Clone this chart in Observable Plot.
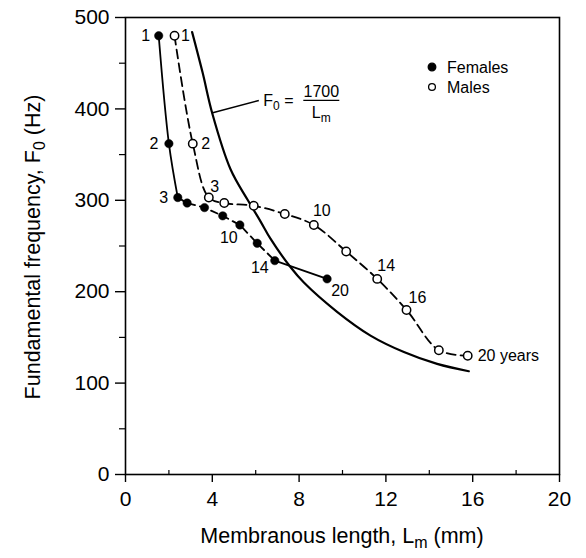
<!DOCTYPE html>
<html><head><meta charset="utf-8">
<script src="https://cdn.jsdelivr.net/npm/d3@7"></script>
<script src="https://cdn.jsdelivr.net/npm/@observablehq/plot@0.6"></script>
<style>
body{margin:0;background:#fff;}
#chart svg{font-family:"Liberation Sans",Arial,Helvetica,sans-serif;color:#000;background:#fff;}
</style>
</head><body><div id="chart"></div>
<script>
// ---- data ----
const femaleAge    = [1, 2, 3, 4, 6, 8, 10, 12, 14, 20];
const femaleLength = [1.53, 2.0, 2.41, 2.84, 3.64, 4.48, 5.27, 6.07, 6.88, 9.29];
const femaleF0     = [480, 362, 303, 297, 292, 283, 273, 253, 234, 214];

const maleAge    = [1, 2, 3, 4, 6, 8, 10, 12, 14, 16, 18, 20];
const maleLength = [2.26, 3.10, 3.84, 4.55, 5.91, 7.34, 8.68, 10.17, 11.60, 12.95, 14.44, 15.77];
const maleF0     = [480, 362, 303, 297, 294, 285, 273, 244, 214, 180, 136, 130];

// curve F0 = 1700 / Lm as drawn in the figure
const curveLength = [3.07, 3.55, 4.0, 4.84, 5.64, 6.22, 6.68, 7.6, 8.22, 9.75, 11.29, 12.83, 14.36, 15.82];
const curveF0     = [484, 440, 395, 334, 300, 277, 258, 227, 210, 178, 152, 134, 121, 113];

const femaleLabelAges = [1, 2, 3, 10, 14, 20];
const maleLabelAges   = [1, 2, 3, 10, 14, 16, 20];
const maleLabelTexts  = ["1", "2", "3", "10", "14", "16", "20 years"];

const xTicks = [0, 4, 8, 12, 16, 20];
const xMinor = [2, 6, 10, 14, 18];
const yTicks = [0, 100, 200, 300, 400, 500];
const yMinor = [50, 150, 250, 350, 450];

const legendLabels = ["Females", "Males"];
const formulaNumerator = "1700";

// ---- build tables ----
const females = femaleAge.map((a, i) => ({age: a, L: femaleLength[i], F: femaleF0[i]}));
const males = maleAge.map((a, i) => ({age: a, L: maleLength[i], F: maleF0[i]}));
const curve = curveLength.map((l, i) => ({L: l, F: curveF0[i]}));

const fSeg1 = females.filter(d => d.age <= 3);
const fSeg2 = females.filter(d => d.age >= 3 && d.age <= 14);
const fSeg3 = females.filter(d => d.age >= 14);

const femaleLabelOffsets = {1: [-13, 0], 2: [-15, 0], 3: [-14, 0], 10: [-11, 13], 14: [-15, 7], 20: [13, 12]};
const maleLabelOffsets = {1: [11, 0], 2: [13, 0], 3: [6, -11], 10: [8, -14], 14: [9, -13], 16: [11, -12], 20: [10, 0]};

const labelMarks = [];
femaleLabelAges.forEach(a => {
  const d = females.find(p => p.age === a);
  const [dx, dy] = femaleLabelOffsets[a];
  labelMarks.push(Plot.text([d], {x: "L", y: "F", text: p => String(p.age), dx, dy, fontSize: 16, fill: "black"}));
});
maleLabelAges.forEach((a, i) => {
  const d = males.find(p => p.age === a);
  const [dx, dy] = maleLabelOffsets[a];
  const last = a === 20;
  labelMarks.push(Plot.text([d], {x: "L", y: "F", text: () => maleLabelTexts[i], dx, dy, fontSize: 16, fill: "black",
    textAnchor: last ? "start" : "middle"}));
});

const chart = Plot.plot({
  width: 586,
  height: 558,
  marginLeft: 125,
  marginRight: 27,
  marginTop: 17,
  marginBottom: 84,
  style: {fontFamily: "Liberation Sans, Arial, Helvetica, sans-serif", color: "black", background: "white"},
  x: {domain: [0, 20]},
  y: {domain: [0, 500]},
  marks: [
    Plot.axisX({ticks: xTicks, tickSize: 8, tickPadding: 9, fontSize: 21, label: null, strokeWidth: 1.4}),
    Plot.axisX({ticks: xMinor, tickSize: 4, dy: -4, text: null, label: null, strokeWidth: 1.2}),
    Plot.axisY({ticks: yTicks, tickSize: 10, tickPadding: 6, fontSize: 21, label: null, strokeWidth: 1.4}),
    Plot.axisY({ticks: yMinor, tickSize: 6, text: null, label: null, strokeWidth: 1.2}),
    Plot.frame({stroke: "black", strokeWidth: 1.6}),
    Plot.line(curve, {x: "L", y: "F", curve: "catmull-rom", stroke: "black", strokeWidth: 2.2}),
    Plot.line(fSeg1, {x: "L", y: "F", curve: "catmull-rom", stroke: "black", strokeWidth: 1.8}),
    Plot.line(fSeg2, {x: "L", y: "F", stroke: "black", strokeWidth: 1.8, strokeDasharray: "7,5"}),
    Plot.line(fSeg3, {x: "L", y: "F", stroke: "black", strokeWidth: 1.8}),
    Plot.line(males, {x: "L", y: "F", curve: "catmull-rom", stroke: "black", strokeWidth: 1.8, strokeDasharray: "9,5"}),
    Plot.dot(females, {x: "L", y: "F", r: 4.2, fill: "black", stroke: "black", strokeWidth: 0.5}),
    Plot.dot(males, {x: "L", y: "F", r: 4.2, fill: "white", stroke: "black", strokeWidth: 1.5}),
    ...labelMarks
  ]
});

document.getElementById("chart").appendChild(chart);

// ---- annotations (positions derived from the scales) ----
const svg = d3.select(chart);
const sx = chart.scale("x"), sy = chart.scale("y");
const FONT = "Liberation Sans, Arial, Helvetica, sans-serif";

// formula with leader line, anchored on the curve point at Lm = 4
const ax = sx.apply(curveLength[2]), ay = sy.apply(curveF0[2]);
const g = svg.append("g").attr("font-family", FONT).attr("fill", "black").attr("text-anchor", "start");
g.append("line").attr("x1", ax).attr("y1", ay).attr("x2", ax + 47).attr("y2", ay - 12.5)
  .attr("stroke", "black").attr("stroke-width", 1.4);
const ft = g.append("text").attr("x", ax + 51.5).attr("y", ay - 7.3).attr("font-size", 16).attr("text-anchor", "start");
ft.append("tspan").text("F");
ft.append("tspan").attr("dy", 4).attr("font-size", 12).text("0");
ft.append("tspan").attr("dy", -4).text(" = ");
g.append("text").attr("x", ax + 109.5).attr("y", ay - 16).attr("font-size", 16)
  .attr("text-anchor", "middle").text(formulaNumerator);
g.append("line").attr("x1", ax + 91.5).attr("x2", ax + 127.5).attr("y1", ay - 12.6).attr("y2", ay - 12.6)
  .attr("stroke", "black").attr("stroke-width", 1.3);
const lt = g.append("text").attr("x", ax + 109.5).attr("y", ay + 5).attr("font-size", 16).attr("text-anchor", "middle");
lt.append("tspan").text("L");
lt.append("tspan").attr("dy", 4).attr("font-size", 12).text("m");

// legend, placed relative to the frame
const fx0 = sx.apply(0), fy0 = sy.apply(500);
const lg = svg.append("g").attr("font-family", FONT).attr("text-anchor", "start");
legendLabels.forEach((lab, i) => {
  const cy = fy0 + 50 + i * 20;
  const cx = fx0 + 307;
  lg.append("circle").attr("cx", cx).attr("cy", cy).attr("r", i === 0 ? 3.8 : 3.4)
    .attr("fill", i === 0 ? "black" : "white").attr("stroke", "black").attr("stroke-width", 1.3);
  lg.append("text").attr("x", cx + 15).attr("y", cy + 5.5).attr("font-size", 16)
    .attr("text-anchor", "start").attr("fill", "black").text(lab);
});

// axis titles
const xt = svg.append("text").attr("font-family", FONT).attr("font-size", 21.5).attr("fill", "black")
  .attr("text-anchor", "middle").attr("x", 342).attr("y", 543);
xt.append("tspan").text("Membranous length, L");
xt.append("tspan").attr("dy", 5).attr("font-size", 16).text("m");
xt.append("tspan").attr("dy", -5).text(" (mm)");

const yt = svg.append("text").attr("font-family", FONT).attr("font-size", 21.5).attr("fill", "black")
  .attr("text-anchor", "middle").attr("transform", "translate(40,247) rotate(-90)");
yt.append("tspan").text("Fundamental frequency, F");
yt.append("tspan").attr("dy", 5).attr("font-size", 16).text("0");
yt.append("tspan").attr("dy", -5).text(" (Hz)");
</script>
</body></html>
